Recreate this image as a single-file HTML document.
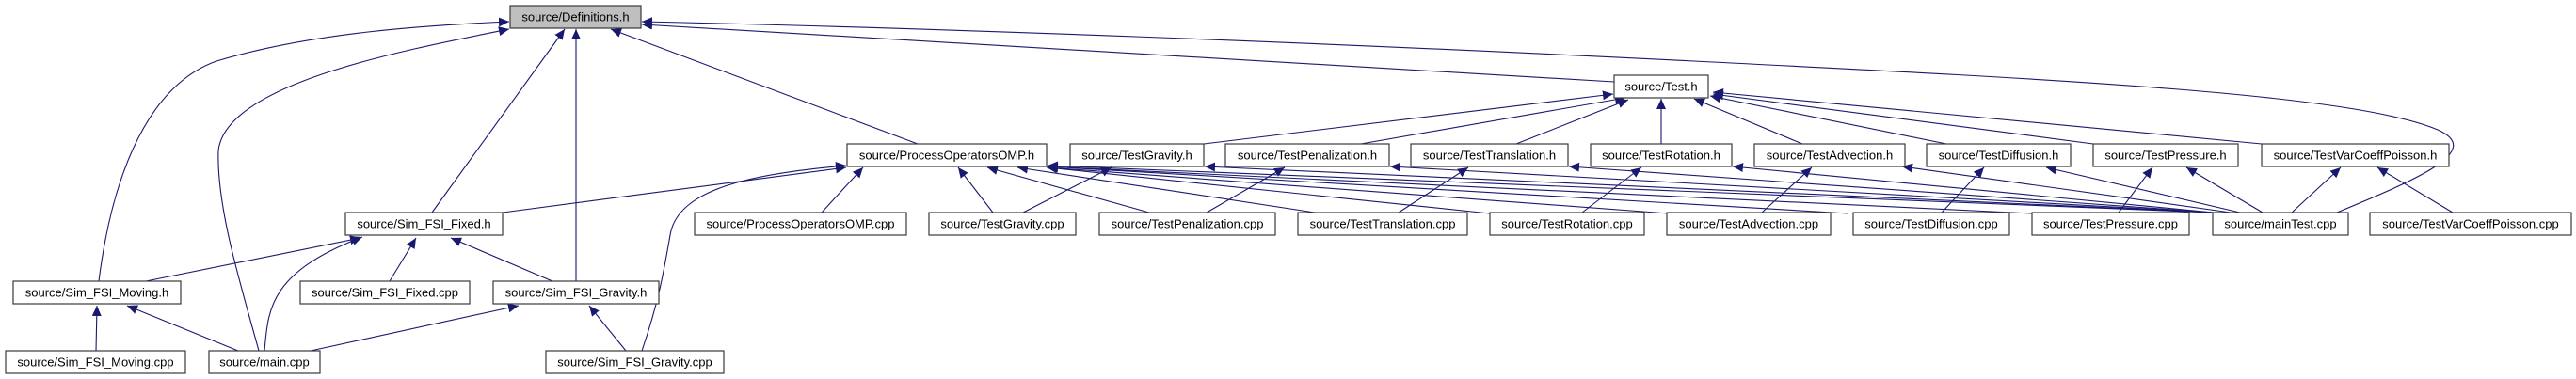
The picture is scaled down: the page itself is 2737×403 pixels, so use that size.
<!DOCTYPE html>
<html><head><meta charset="utf-8"><style>
html,body{margin:0;padding:0;background:#fff;}
svg{display:block;}
text{font-family:"Liberation Sans",Arial,sans-serif;font-size:13px;fill:#000;}
.b{fill:#fff;stroke:#3a3a3a;stroke-width:1.2;}
.e{fill:none;stroke:#191970;stroke-width:1.1;}
</style></head><body>
<svg width="2737" height="403" viewBox="0 0 2737 403" xmlns="http://www.w3.org/2000/svg">
<defs>
<marker id="a" markerUnits="userSpaceOnUse" markerWidth="12" markerHeight="10" refX="11" refY="5" orient="auto">
<path d="M0,0 L11,5 L0,10 Z" fill="#191970"/>
</marker>
</defs>
<g class="e" marker-end="url(#a)">
<path d="M105,299 C120,180 160,90 230,65 C330,35 450,27 541,23"/>
<path d="M275,373 C255,300 230,220 232,160 C240,90 420,55 541,31"/>
<path d="M459,226 L600,31"/>
<path d="M612,299 L612,31"/>
<path d="M975,153 L649,31"/>
<path d="M1715,87 L682,26"/>
<path d="M2483,226 C2570,190 2640,160 2590,138 C2500,100 2200,85 1800,65 C1400,45 1000,30 682,23"/>
<path d="M1279,153 L1714,100"/>
<path d="M1446,153 L1727,104"/>
<path d="M1611,153 L1730,106"/>
<path d="M1765,153 L1765,105"/>
<path d="M1915,153 L1800,105"/>
<path d="M2068,153 L1817,102"/>
<path d="M2224,153 L1820,100"/>
<path d="M2403,153 L1820,98"/>
<path d="M534,226 L899,178"/>
<path d="M682,373 C700,320 705,290 712,250 C720,200 800,185 899,176"/>
<path d="M873,226 L917,178"/>
<path d="M1055,226 L1018,178"/>
<path d="M1221,226 L1049,178"/>
<path d="M1397,226 L1081,178"/>
<path d="M1583,227 L1112,178"/>
<path d="M1773,227 L1113,178"/>
<path d="M1964,227 L1113,177"/>
<path d="M2159,227 L1113,177"/>
<path d="M2350,226 L1113,176"/>
<path d="M1087,226 L1181,178"/>
<path d="M2351,226 L1280,177"/>
<path d="M1282,226 L1365,178"/>
<path d="M2351,226 L1477,177"/>
<path d="M1486,226 L1560,178"/>
<path d="M2351,226 L1667,177"/>
<path d="M1681,226 L1744,178"/>
<path d="M2352,226 L1841,177"/>
<path d="M1872,226 L1925,178"/>
<path d="M2370,226 L2021,177"/>
<path d="M2063,226 L2108,178"/>
<path d="M2380,226 L2174,178"/>
<path d="M2251,226 L2287,178"/>
<path d="M2404,226 L2323,178"/>
<path d="M2435,226 L2487,178"/>
<path d="M2606,226 L2526,178"/>
<path d="M155,299 L383,253"/>
<path d="M281,373 C285,330 285,290 385,252"/>
<path d="M414,299 L442,253"/>
<path d="M587,299 L479,253"/>
<path d="M102,373 L103,325"/>
<path d="M253,373 L135,325"/>
<path d="M330,373 L551,325"/>
<path d="M665,373 L626,325"/>
</g>
<g>
<rect x="542" y="6" width="139" height="24" fill="#bfbfbf" stroke="#3a3a3a" stroke-width="1.2"/>
<text x="611.5" y="22.5" text-anchor="middle">source/Definitions.h</text>
<rect class="b" x="1715" y="80" width="100" height="24"/><text x="1765" y="96.5" text-anchor="middle">source/Test.h</text>
<rect class="b" x="900" y="153" width="212" height="24"/><text x="1006" y="169.5" text-anchor="middle">source/ProcessOperatorsOMP.h</text>
<rect class="b" x="1137" y="153" width="142" height="24"/><text x="1208" y="169.5" text-anchor="middle">source/TestGravity.h</text>
<rect class="b" x="1302" y="153" width="174" height="24"/><text x="1389" y="169.5" text-anchor="middle">source/TestPenalization.h</text>
<rect class="b" x="1499" y="153" width="167" height="24"/><text x="1582.5" y="169.5" text-anchor="middle">source/TestTranslation.h</text>
<rect class="b" x="1690" y="153" width="150" height="24"/><text x="1765" y="169.5" text-anchor="middle">source/TestRotation.h</text>
<rect class="b" x="1864" y="153" width="160" height="24"/><text x="1944" y="169.5" text-anchor="middle">source/TestAdvection.h</text>
<rect class="b" x="2047" y="153" width="153" height="24"/><text x="2123.5" y="169.5" text-anchor="middle">source/TestDiffusion.h</text>
<rect class="b" x="2224" y="153" width="154" height="24"/><text x="2301" y="169.5" text-anchor="middle">source/TestPressure.h</text>
<rect class="b" x="2403" y="153" width="199" height="24"/><text x="2502.5" y="169.5" text-anchor="middle">source/TestVarCoeffPoisson.h</text>

<rect class="b" x="367" y="226" width="167" height="24"/><text x="450.5" y="242.5" text-anchor="middle">source/Sim_FSI_Fixed.h</text>
<rect class="b" x="738" y="226" width="225" height="24"/><text x="850.5" y="242.5" text-anchor="middle">source/ProcessOperatorsOMP.cpp</text>
<rect class="b" x="987" y="226" width="156" height="24"/><text x="1065" y="242.5" text-anchor="middle">source/TestGravity.cpp</text>
<rect class="b" x="1168" y="226" width="187" height="24"/><text x="1261.5" y="242.5" text-anchor="middle">source/TestPenalization.cpp</text>
<rect class="b" x="1379" y="226" width="180" height="24"/><text x="1469" y="242.5" text-anchor="middle">source/TestTranslation.cpp</text>
<rect class="b" x="1583" y="226" width="164" height="24"/><text x="1665" y="242.5" text-anchor="middle">source/TestRotation.cpp</text>
<rect class="b" x="1771" y="226" width="174" height="24"/><text x="1858" y="242.5" text-anchor="middle">source/TestAdvection.cpp</text>
<rect class="b" x="1969" y="226" width="166" height="24"/><text x="2052" y="242.5" text-anchor="middle">source/TestDiffusion.cpp</text>
<rect class="b" x="2159" y="226" width="167" height="24"/><text x="2242.5" y="242.5" text-anchor="middle">source/TestPressure.cpp</text>
<rect class="b" x="2351" y="226" width="144" height="24"/><text x="2423" y="242.5" text-anchor="middle">source/mainTest.cpp</text>
<rect class="b" x="2518" y="226" width="214" height="24"/><text x="2625" y="242.5" text-anchor="middle">source/TestVarCoeffPoisson.cpp</text>

<rect class="b" x="14" y="299" width="178" height="24"/><text x="103" y="315.5" text-anchor="middle">source/Sim_FSI_Moving.h</text>
<rect class="b" x="319" y="299" width="180" height="24"/><text x="409" y="315.5" text-anchor="middle">source/Sim_FSI_Fixed.cpp</text>
<rect class="b" x="524" y="299" width="176" height="24"/><text x="612" y="315.5" text-anchor="middle">source/Sim_FSI_Gravity.h</text>

<rect class="b" x="6" y="373" width="191" height="24"/><text x="101.5" y="389.5" text-anchor="middle">source/Sim_FSI_Moving.cpp</text>
<rect class="b" x="222" y="373" width="118" height="24"/><text x="281" y="389.5" text-anchor="middle">source/main.cpp</text>
<rect class="b" x="580" y="373" width="189" height="24"/><text x="674.5" y="389.5" text-anchor="middle">source/Sim_FSI_Gravity.cpp</text>
</g>
</svg>
</body></html>
